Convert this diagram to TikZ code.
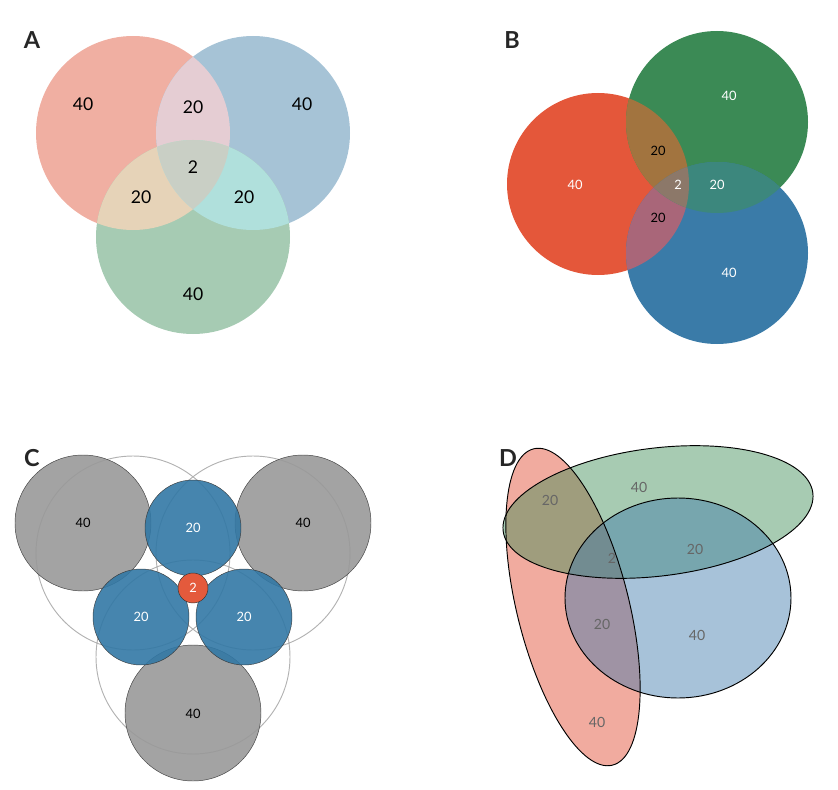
\documentclass[tikz,border=0pt]{standalone}
\usepackage{fontspec}
\setmainfont{Lato}
\definecolor{aP}{RGB}{240,175,162}\definecolor{aQ}{RGB}{166,195,214}\definecolor{aR}{RGB}{166,203,179}
\definecolor{aPQ}{RGB}{229,205,211}\definecolor{aPR}{RGB}{230,211,184}\definecolor{aQR}{RGB}{176,224,220}\definecolor{aPQR}{RGB}{201,207,197}
\definecolor{bP}{RGB}{228,87,58}\definecolor{bQ}{RGB}{59,138,85}\definecolor{bR}{RGB}{58,123,168}
\definecolor{bPQ}{RGB}{162,116,63}\definecolor{bPR}{RGB}{169,102,121}\definecolor{bQR}{RGB}{60,135,125}\definecolor{bPQR}{RGB}{140,120,105}
\definecolor{cB}{RGB}{50,120,165}\definecolor{cR}{RGB}{228,90,60}
\definecolor{dP}{RGB}{232,115,95}\definecolor{dQ}{RGB}{60,140,85}\definecolor{dR}{RGB}{60,120,170}
\begin{document}
\begin{tikzpicture}[x=0.03cm,y=-0.03cm,
  lab/.style={font=\fontsize{20}{20}\selectfont\bfseries,text=black!85},
  la/.style={font=\fontsize{15}{15}\selectfont},
  lb/.style={font=\fontsize{11}{11}\selectfont,text=white},
  lc/.style={font=\fontsize{11}{11}\selectfont},
  ld/.style={font=\fontsize{12}{12}\selectfont,text=black!60}]
\useasboundingbox (0,0) rectangle (838,790);
% A
\def\cP{(133,133) circle (97)}\def\cQ{(253,133) circle (97)}\def\cR{(193,237) circle (97)}
\fill[aP] \cP;
\fill[aQ] \cQ;
\fill[aR] \cR;
\begin{scope}\clip \cP; \fill[aPQ] \cQ; \fill[aPR] \cR; \end{scope}
\begin{scope}\clip \cQ; \fill[aQR] \cR; \clip \cP; \fill[aPQR] \cR; \end{scope}
\node[lab] (tA) at (32,40) {A};
\node[la] (a1) at (83,104) {40};
\node[la] (a2) at (193,107) {20};
\node[la] (a3) at (302,104) {40};
\node[la] (a4) at (193,167) {2};
\node[la] (a5) at (141,197) {20};
\node[la] (a6) at (244,197) {20};
\node[la] (a7) at (193,294) {40};
% B
\def\bbP{(598,184) circle (91)}\def\bbQ{(717,122) circle (91)}\def\bbR{(717,253) circle (91)}
\fill[bP] \bbP;
\fill[bQ] \bbQ;
\fill[bR] \bbR;
\begin{scope}\clip \bbP; \fill[bPQ] \bbQ; \fill[bPR] \bbR; \end{scope}
\begin{scope}\clip \bbQ; \fill[bQR] \bbR; \clip \bbP; \fill[bPQR] \bbR; \end{scope}
\node[lab] (tB) at (512,40) {B};
\node[lb] (b1) at (575,185) {40};
\node[lb] (b2) at (729,96) {40};
\node[lb] (b3) at (729,273) {40};
\node[lc] (b4) at (658,151) {20};
\node[lc] (b5) at (658,218) {20};
\node[lb] (b6) at (678,185) {2};
\node[lb] (b7) at (717,185) {20};
% C
\draw[black!30,thick] (133,553) circle (97) (253,553) circle (97) (193,657) circle (97);
\tikzset{gc/.style={draw=black!80,fill=black!40,opacity=0.9},
  bc/.style={draw=black!80,fill=cB,opacity=0.9}}
\path[gc] (83,523) circle (68) (303,523) circle (68) (193,713) circle (68);
\path[bc] (193,528) circle (48) (141,617) circle (48) (244,617) circle (48);
\path[draw=black!80,fill=cR] (193,588) circle (15);
\node[lab] (tC) at (32,458) {C};
\node[lc] (c1) at (83,523) {40};
\node[lc] (c2) at (303,523) {40};
\node[lc] (c3) at (193,714) {40};
\node[lb] (c4) at (193,528) {20};
\node[lb] (c5) at (141,617) {20};
\node[lb] (c6) at (244,617) {20};
\node[lb] (c7) at (193,588) {2};
% D
\fill[opacity=0.6,fill=dP] (573,607) [rotate around={14:(573,607)}] ellipse (56 and 163);
\fill[opacity=0.45,fill=dQ] (658,512) [rotate around={7:(658,512)}] ellipse (156 and 64);
\fill[opacity=0.45,fill=dR] (678,598) ellipse (113 and 100);
\draw[thick] (573,607) [rotate around={14:(573,607)}] ellipse (56 and 163);
\draw[thick] (658,512) [rotate around={7:(658,512)}] ellipse (156 and 64);
\draw[thick] (678,598) ellipse (113 and 100);
\node[lab] (tD) at (508,458) {D};
\node[ld] (d1) at (550,500) {20};
\node[ld] (d2) at (639,487) {40};
\node[ld] (d3) at (695,549) {20};
\node[ld] (d4) at (612,558) {2};
\node[ld] (d5) at (602,624) {20};
\node[ld] (d6) at (697,635) {40};
\node[ld] (d7) at (597,722) {40};
\end{tikzpicture}
\end{document}
